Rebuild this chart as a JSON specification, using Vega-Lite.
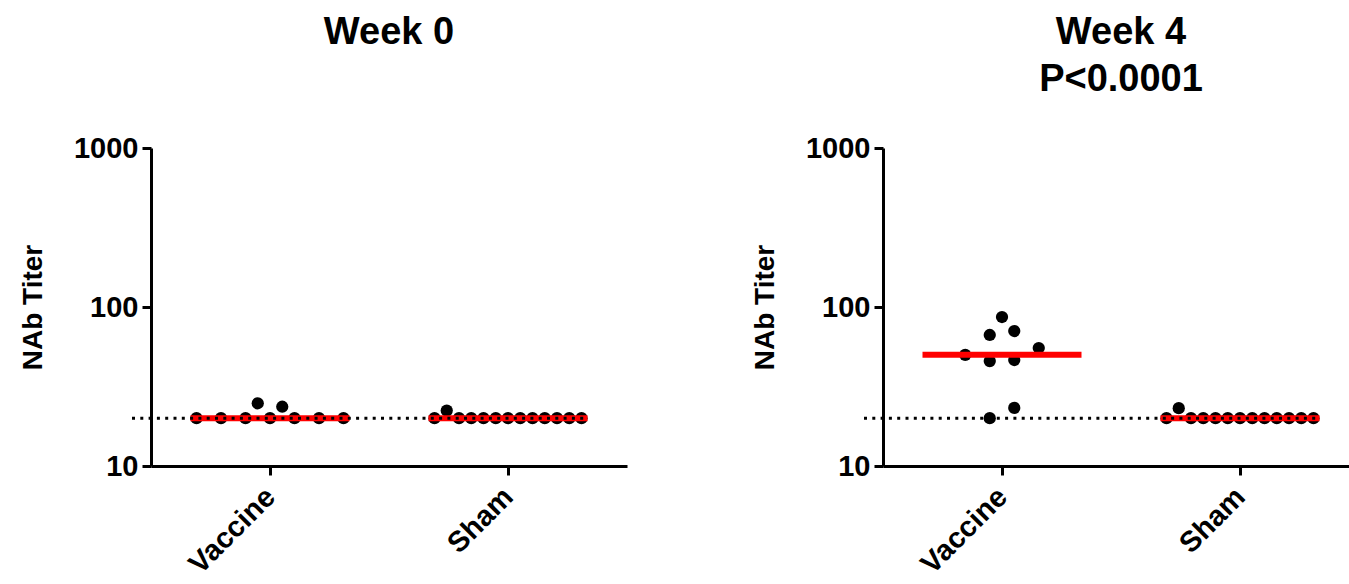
{
  "$schema": "https://vega.github.io/schema/vega-lite/v6.json",
  "background": "white",
  "padding": {"left": 19, "top": 14, "right": 0, "bottom": 0},
  "spacing": 124,
  "config": {
    "font": "Liberation Sans",
    "view": {"stroke": null},
    "axis": {
      "domainColor": "black", "domainWidth": 3, "tickColor": "black", "tickWidth": 3, "tickSize": 9,
      "labelFont": "Liberation Sans", "labelFontWeight": "bold", "labelColor": "black", "labelFontSize": 29,
      "titleFont": "Liberation Sans", "titleFontSize": 28, "titleFontWeight": "bold", "titleColor": "black", "grid": false
    },
    "title": {"font": "Liberation Sans", "fontSize": 38, "fontWeight": "bold", "color": "black", "lineHeight": 47, "anchor": "middle"}
  },
  "datasets": {
    "week0": [
      {"group": "Vaccine", "slot": -6, "titer": 20},
      {"group": "Vaccine", "slot": -4, "titer": 20},
      {"group": "Vaccine", "slot": -2, "titer": 20},
      {"group": "Vaccine", "slot": 0, "titer": 20},
      {"group": "Vaccine", "slot": 2, "titer": 20},
      {"group": "Vaccine", "slot": 4, "titer": 20},
      {"group": "Vaccine", "slot": 6, "titer": 20},
      {"group": "Vaccine", "slot": -1, "titer": 24.8},
      {"group": "Vaccine", "slot": 1, "titer": 23.6},
      {"group": "Sham", "slot": -6, "titer": 20},
      {"group": "Sham", "slot": -5, "titer": 22.3},
      {"group": "Sham", "slot": -4, "titer": 20},
      {"group": "Sham", "slot": -3, "titer": 20},
      {"group": "Sham", "slot": -2, "titer": 20},
      {"group": "Sham", "slot": -1, "titer": 20},
      {"group": "Sham", "slot": 0, "titer": 20},
      {"group": "Sham", "slot": 1, "titer": 20},
      {"group": "Sham", "slot": 2, "titer": 20},
      {"group": "Sham", "slot": 3, "titer": 20},
      {"group": "Sham", "slot": 4, "titer": 20},
      {"group": "Sham", "slot": 5, "titer": 20},
      {"group": "Sham", "slot": 6, "titer": 20}
    ],
    "week4": [
      {"group": "Vaccine", "slot": -3, "titer": 50},
      {"group": "Vaccine", "slot": -1, "titer": 66.7},
      {"group": "Vaccine", "slot": 0, "titer": 86.5},
      {"group": "Vaccine", "slot": 1, "titer": 70.6},
      {"group": "Vaccine", "slot": 3, "titer": 55.2},
      {"group": "Vaccine", "slot": -1, "titer": 45.7},
      {"group": "Vaccine", "slot": 1, "titer": 46.4},
      {"group": "Vaccine", "slot": 1, "titer": 23.2},
      {"group": "Vaccine", "slot": -1, "titer": 20},
      {"group": "Sham", "slot": -6, "titer": 20},
      {"group": "Sham", "slot": -5, "titer": 23.1},
      {"group": "Sham", "slot": -4, "titer": 20},
      {"group": "Sham", "slot": -3, "titer": 20},
      {"group": "Sham", "slot": -2, "titer": 20},
      {"group": "Sham", "slot": -1, "titer": 20},
      {"group": "Sham", "slot": 0, "titer": 20},
      {"group": "Sham", "slot": 1, "titer": 20},
      {"group": "Sham", "slot": 2, "titer": 20},
      {"group": "Sham", "slot": 3, "titer": 20},
      {"group": "Sham", "slot": 4, "titer": 20},
      {"group": "Sham", "slot": 5, "titer": 20},
      {"group": "Sham", "slot": 6, "titer": 20}
    ],
    "limit": [{"threshold": 20}]
  },
  "hconcat": [
    {
      "title": {"text": ["Week 0", " "], "offset": 35},
      "width": 476, "height": 318,
      "layer": [
        {
          "data": {"name": "week0"},
          "mark": {"type": "circle", "size": 150, "opacity": 1, "color": "black"},
          "encoding": {
            "x": {"field": "group", "type": "nominal", "sort": ["Vaccine", "Sham"], "scale": {"type": "point", "padding": 0.5},
                  "axis": {"title": null, "labelAngle": -45, "labelAlign": "right", "labelBaseline": "middle", "labelPadding": 17, "labelFontSize": 29}},
            "xOffset": {"field": "slot", "type": "quantitative", "scale": {"domain": [-6, 6], "range": [-73.5, 73.5]}},
            "y": {"field": "titer", "type": "quantitative", "scale": {"type": "log", "domain": [10, 1000]},
                  "axis": {"title": "NAb Titer", "values": [10, 100, 1000], "format": "d", "labelPadding": 4, "titlePadding": 26}}
          }
        },
        {
          "data": {"name": "week0"},
          "mark": {"type": "tick", "color": "red", "thickness": 6, "size": 159, "opacity": 1},
          "encoding": {
            "x": {"field": "group", "type": "nominal", "sort": ["Vaccine", "Sham"]},
            "y": {"aggregate": "median", "field": "titer", "type": "quantitative"}
          }
        },
        {
          "data": {"name": "limit"},
          "mark": {"type": "rule", "color": "black", "strokeWidth": 3, "strokeDash": [3, 5.3], "xOffset": -138, "x2Offset": 80},
          "encoding": {
            "x": {"datum": "Vaccine", "type": "nominal"},
            "x2": {"datum": "Sham"},
            "y": {"field": "threshold", "type": "quantitative"}
          }
        }
      ]
    },
    {
      "title": {"text": ["Week 4", "P<0.0001"], "offset": 35},
      "width": 476, "height": 318,
      "layer": [
        {
          "data": {"name": "week4"},
          "mark": {"type": "circle", "size": 150, "opacity": 1, "color": "black"},
          "encoding": {
            "x": {"field": "group", "type": "nominal", "sort": ["Vaccine", "Sham"], "scale": {"type": "point", "padding": 0.5},
                  "axis": {"title": null, "labelAngle": -45, "labelAlign": "right", "labelBaseline": "middle", "labelPadding": 17, "labelFontSize": 29}},
            "xOffset": {"field": "slot", "type": "quantitative", "scale": {"domain": [-6, 6], "range": [-73.5, 73.5]}},
            "y": {"field": "titer", "type": "quantitative", "scale": {"type": "log", "domain": [10, 1000]},
                  "axis": {"title": "NAb Titer", "values": [10, 100, 1000], "format": "d", "labelPadding": 4, "titlePadding": 26}}
          }
        },
        {
          "data": {"name": "week4"},
          "mark": {"type": "tick", "color": "red", "thickness": 6, "size": 159, "opacity": 1},
          "encoding": {
            "x": {"field": "group", "type": "nominal", "sort": ["Vaccine", "Sham"]},
            "y": {"aggregate": "median", "field": "titer", "type": "quantitative"}
          }
        },
        {
          "data": {"name": "limit"},
          "mark": {"type": "rule", "color": "black", "strokeWidth": 3, "strokeDash": [3, 5.3], "xOffset": -138, "x2Offset": 80},
          "encoding": {
            "x": {"datum": "Vaccine", "type": "nominal"},
            "x2": {"datum": "Sham"},
            "y": {"field": "threshold", "type": "quantitative"}
          }
        }
      ]
    }
  ]
}
